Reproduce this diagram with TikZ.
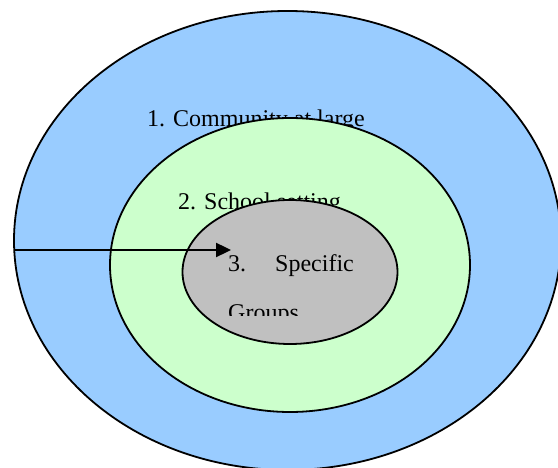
\documentclass[tikz,border=0pt]{standalone}
\usepackage{fontspec}
\setmainfont{Liberation Serif}
\usetikzlibrary{shapes.geometric,arrows.meta}
\definecolor{outerblue}{HTML}{99CCFF}
\definecolor{midgreen}{HTML}{CCFFCC}
\definecolor{innergray}{HTML}{C0C0C0}
\begin{document}
\begin{tikzpicture}[x=1pt,y=-1pt,
  ring/.style={ellipse, draw=black, line width=1.8pt, inner sep=0pt},
  lbl/.style={anchor=base west, inner sep=0pt, font=\fontsize{24}{28}\selectfont},
  arr/.style={line width=2.4pt, -{Triangle[length=15pt,width=14pt]}}]
\useasboundingbox (0,0) rectangle (558,468);
\clip (0,0) rectangle (558,468);
\node[ring, fill=outerblue, minimum width=547pt, minimum height=459pt] (outer) at (287.5,240.5) {};
\node[lbl] (t1) at (147,127) {1. Community at large};
\node[ring, fill=midgreen, minimum width=360pt, minimum height=294pt] (mid) at (290,265) {};
\node[lbl] (t2) at (178,210) {2. School setting};
\node[ring, fill=innergray, minimum width=215pt, minimum height=144pt] (inner) at (290,272) {};
\node[lbl] (t3) at (228,272) {3.\hspace{29pt}Specific};
\begin{scope}
\clip (200,285) rectangle (380,316);
\node[lbl] (t4) at (228,320.5) {Groups};
\end{scope}
\coordinate (astart) at (14,250);
\coordinate (aend) at (231,250);
\draw[arr] (astart) -- (aend);
\end{tikzpicture}
\end{document}
